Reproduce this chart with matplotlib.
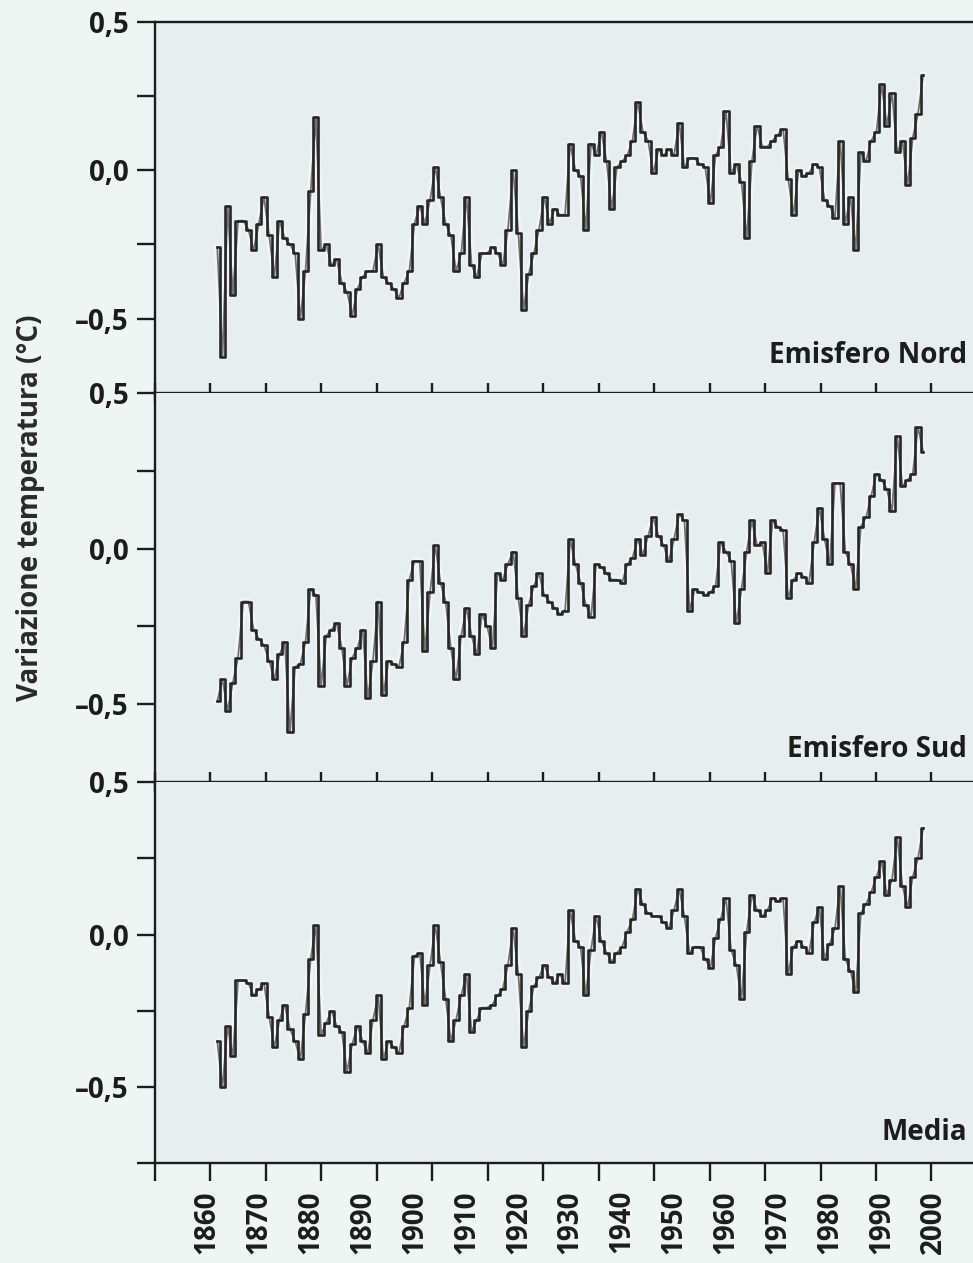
import numpy as np
import matplotlib.pyplot as plt

plt.rcParams['font.family'] = ['Open Sans', 'DejaVu Sans']

# annual temperature anomalies (°C), 1862-1998
years = np.arange(1862, 1999)

nord = [
    -0.26, -0.63, -0.12, -0.42, -0.17, -0.17, -0.20, -0.27,
    -0.18, -0.09, -0.22, -0.36, -0.17, -0.23, -0.25, -0.28, -0.50, -0.34,
    -0.07, 0.18, -0.27, -0.25, -0.32, -0.30, -0.38, -0.41, -0.49, -0.40,
    -0.36, -0.34, -0.34, -0.25, -0.36, -0.38, -0.40, -0.43, -0.38, -0.34,
    -0.18, -0.12, -0.18, -0.10, 0.01, -0.09, -0.18, -0.22, -0.34, -0.28,
    -0.09, -0.32, -0.36, -0.28, -0.28, -0.26, -0.28, -0.32, -0.20, 0.00,
    -0.21, -0.47, -0.35, -0.28, -0.20, -0.09, -0.18, -0.13, -0.15, -0.15,
    0.09, 0.00, -0.02, -0.20, 0.09, 0.05, 0.13, 0.03, -0.13, 0.01,
    0.03, 0.05, 0.10, 0.23, 0.13, 0.10, -0.01, 0.07, 0.05, 0.07,
    0.05, 0.16, 0.01, 0.04, 0.04, 0.02, 0.01, -0.11, 0.05, 0.08,
    0.20, -0.01, 0.02, -0.04, -0.23, 0.03, 0.15, 0.08, 0.08, 0.10,
    0.12, 0.14, -0.03, -0.15, 0.00, -0.02, -0.01, 0.02, 0.01, -0.10,
    -0.12, -0.16, 0.10, -0.18, -0.09, -0.27, 0.06, 0.03, 0.10, 0.13,
    0.29, 0.15, 0.26, 0.06, 0.10, -0.05, 0.11, 0.19, 0.32,
]

sud = [
    -0.49, -0.42, -0.52, -0.43, -0.35, -0.17, -0.17, -0.26,
    -0.29, -0.31, -0.36, -0.42, -0.34, -0.30, -0.59, -0.38, -0.37, -0.30,
    -0.13, -0.15, -0.44, -0.28, -0.26, -0.24, -0.32, -0.44, -0.35, -0.32,
    -0.26, -0.48, -0.36, -0.17, -0.47, -0.36, -0.37, -0.38, -0.30, -0.10,
    -0.04, -0.04, -0.33, -0.14, 0.01, -0.11, -0.17, -0.32, -0.42, -0.28,
    -0.19, -0.28, -0.34, -0.21, -0.25, -0.32, -0.08, -0.10, -0.05, -0.01,
    -0.16, -0.28, -0.18, -0.12, -0.08, -0.15, -0.17, -0.19, -0.21, -0.20,
    0.03, -0.05, -0.11, -0.18, -0.22, -0.05, -0.06, -0.08, -0.10, -0.10,
    -0.11, -0.05, -0.03, 0.03, -0.02, 0.04, 0.10, 0.04, 0.01, -0.04,
    0.03, 0.11, 0.09, -0.20, -0.13, -0.14, -0.15, -0.14, -0.12, 0.02,
    -0.01, -0.04, -0.24, -0.13, -0.01, 0.09, 0.01, 0.02, -0.08, 0.09,
    0.07, 0.06, -0.16, -0.10, -0.08, -0.09, -0.11, 0.02, 0.13, 0.03,
    -0.05, 0.21, 0.21, -0.01, -0.05, -0.13, 0.07, 0.10, 0.17, 0.24,
    0.22, 0.19, 0.12, 0.36, 0.20, 0.22, 0.24, 0.39, 0.31,
]

media = [
    -0.35, -0.50, -0.30, -0.40, -0.15, -0.15, -0.16, -0.20,
    -0.18, -0.16, -0.27, -0.37, -0.28, -0.23, -0.31, -0.35, -0.41, -0.26,
    -0.08, 0.03, -0.33, -0.29, -0.25, -0.30, -0.32, -0.45, -0.36, -0.30,
    -0.35, -0.39, -0.28, -0.20, -0.41, -0.35, -0.37, -0.39, -0.30, -0.24,
    -0.07, -0.06, -0.23, -0.10, 0.03, -0.09, -0.21, -0.35, -0.28, -0.20,
    -0.13, -0.32, -0.28, -0.24, -0.24, -0.23, -0.20, -0.18, -0.10, 0.02,
    -0.13, -0.37, -0.25, -0.17, -0.14, -0.10, -0.14, -0.16, -0.13, -0.16,
    0.08, -0.02, -0.04, -0.20, -0.05, 0.06, -0.02, -0.06, -0.09, -0.06,
    -0.04, 0.01, 0.05, 0.15, 0.10, 0.07, 0.06, 0.06, 0.04, 0.02,
    0.08, 0.15, 0.06, -0.06, -0.04, -0.04, -0.08, -0.11, -0.01, 0.05,
    0.12, -0.05, -0.10, -0.21, 0.01, 0.13, 0.08, 0.06, 0.08, 0.12,
    0.11, 0.12, -0.13, -0.04, -0.02, -0.04, -0.06, 0.04, 0.09, -0.08,
    -0.03, 0.02, 0.16, -0.08, -0.12, -0.19, 0.07, 0.10, 0.14, 0.19,
    0.24, 0.13, 0.18, 0.32, 0.16, 0.09, 0.19, 0.25, 0.35,
]

series = [nord, sud, media]
titles = ['Emisfero Nord', 'Emisfero Sud', 'Media']
title_y = [0.081, 0.064, 0.060]
year_labels = np.arange(1860, 2001, 10)

XMIN, XMAX = 1850, 2007.6
INK = '#1c1c1c'

fig = plt.figure(figsize=(9.73, 12.63), dpi=100, facecolor='#eef6f4')
gs = fig.add_gridspec(3, 1, left=0.1593, right=1.0, top=0.9826, bottom=0.0792,
                      hspace=0, height_ratios=[371, 390, 381])


def fmt(v):
    return f'{v:.1f}'.replace('.', ',').replace('-', '\u2013')


for i, vals in enumerate(series):
    ax = fig.add_subplot(gs[i])
    ax.set_facecolor('#e7eef0')
    # light connecting line under the stepped yearly values
    ax.plot(years, vals, color='#f4f8f8', lw=5, alpha=0.8, zorder=1)
    ax.plot(years, vals, color='#707070', lw=1.3, zorder=2)
    ax.plot(years, vals, color='#262626', lw=1.9, drawstyle='steps-mid', zorder=3)

    ax.set_xlim(XMIN, XMAX)
    ax.set_ylim(-0.75, 0.5)

    for side in ['right', 'top']:
        ax.spines[side].set_visible(False)
    if i == 0:
        ax.spines['top'].set_visible(True)
    for sp in ax.spines.values():
        sp.set_linewidth(1.7)
        sp.set_color(INK)

    yt = [-0.5, 0.0, 0.5]
    ax.set_yticks(yt)
    ax.set_yticklabels([fmt(v) for v in yt], fontsize=20, fontweight='bold', color=INK)
    ax.set_yticks([-0.75, -0.25, 0.25] if i == 2 else [-0.25, 0.25], minor=True)
    ax.tick_params(axis='y', which='both', direction='out', length=13, width=1.7,
                   color=INK, pad=6)

    ax.set_xticks(year_labels)
    ax.set_xticks(np.linspace(XMIN, 1999.6, 15), minor=True)
    if i < 2:
        ax.tick_params(axis='x', which='minor', direction='inout', length=15,
                       width=1.7, color=INK)
        ax.tick_params(axis='x', which='major', length=0, labelbottom=False)
    else:
        ax.tick_params(axis='x', which='minor', direction='out', length=13,
                       width=1.7, color=INK)
        ax.tick_params(axis='x', which='major', length=0, pad=19.5)
        ax.set_xticklabels([str(y) for y in year_labels], rotation=90,
                           fontsize=20, fontweight='bold', color=INK)

    ax.text(0.993, title_y[i], titles[i], transform=ax.transAxes, ha='right',
            va='baseline', fontsize=20, fontweight='bold', color=INK)

fig.text(31 / 973, 1 - 508 / 1263, 'Variazione temperatura (°C)', rotation=90,
         ha='center', va='center', fontsize=20, fontweight='bold', color='#2a2a2a')

fig.savefig('out.png', dpi=100, facecolor=fig.get_facecolor())
